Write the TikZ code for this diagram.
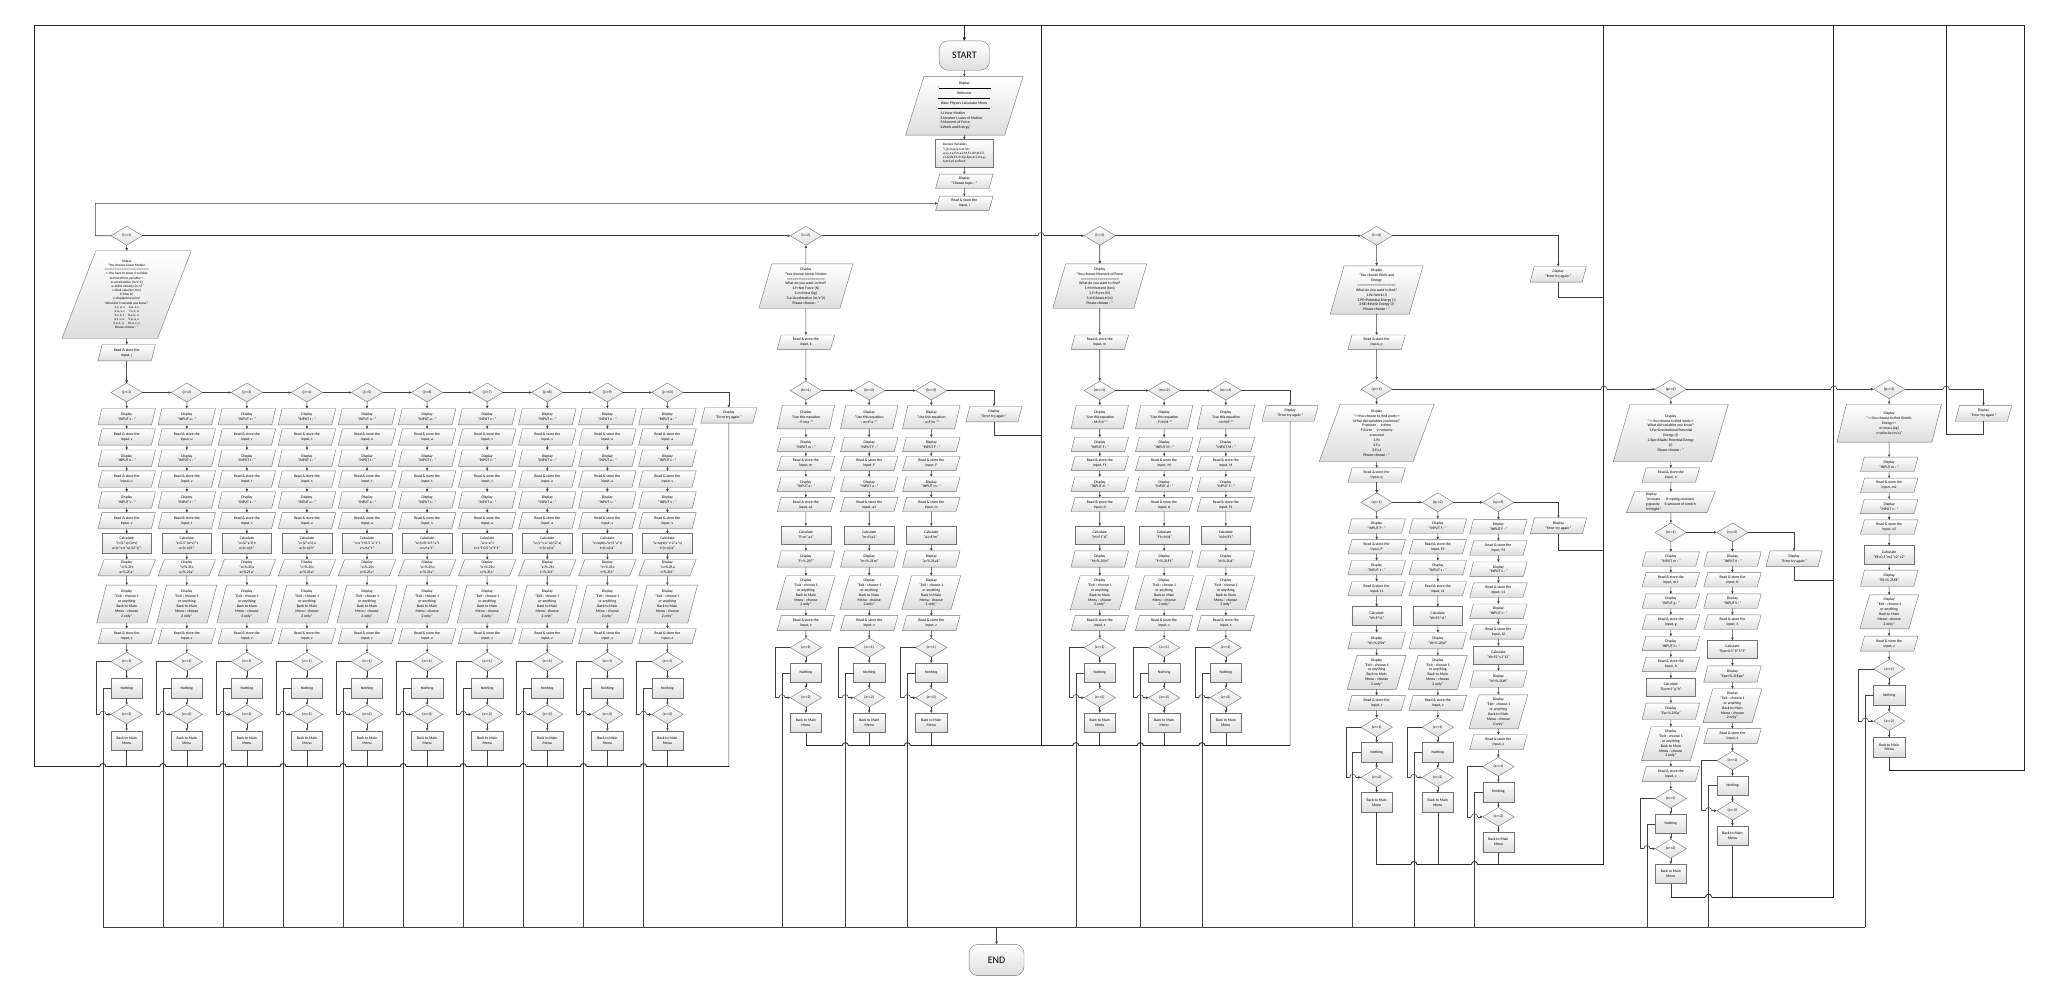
\documentclass[tikz,border=0pt]{standalone}
\usepackage{fontspec}
\setmainfont{Carlito}
\usetikzlibrary{shapes.geometric,arrows.meta}
\newcommand\pxu{1.30612pt}
\newcommand\fs{\fontsize{3.8}{4.9}\selectfont}
\newcommand\fsb{\fontsize{3.4}{4.15}\selectfont}
\newcommand\dtx[1]{Display\\"INPUT #1 : "}
\newcommand\rtx[1]{Read \& store the\\input, #1}
\newcommand\extx{Display\\"Exit : choose 1\\or anything\\Back to Main\\Menu : choose\\2 only"}
\newcommand\errtx{Display\\"Error try again "}
\newcommand\rsx{}
\newcommand\prevnd{}
\newcommand\newchain{\gdef\prevnd{}}
\newcommand\Nd[5][paraB]{\node[#1] (#2) at (#3,#4) {#5};\ifx\prevnd\empty\else\draw[arr] (\prevnd) -- (#2);\fi\gdef\prevnd{#2}}
\newcommand\hop[4]{%
 \fill[white] ({#3-2.4},{#4-1.1}) rectangle ({#3+2.4},{#4+1.1});
 \draw[#2] (#3,{#4-1.4}) -- (#3,{#4+1.4});
 \draw[#1] ({#3-2.4},#4) .. controls ({#3-2.4},{#4-3.2}) and ({#3+2.4},{#4-3.2}) .. ({#3+2.4},#4);}
\newcommand\tail[5]{%
 \Nd[paraZ]{#1Rz}{#2}{#3+23.3*#4}{\rtx{z}}%
 \Nd[dec]{#1Z1}{#2}{#3+42*#4}{(z==1)}%
 \Nd[nb]{#1N}{#2}{#3+61.3*#4}{Nothing}%
 \Nd[dec]{#1Z2}{#2}{#3+80.4*#4}{(z==2)}%
 \Nd[nb]{#1B}{#2}{#3+99.6*#4}{Back to Main\\Menu}%
 \draw[arr] (#1Z1.west) -- ++(-11.5,0) |- (#1Z2.west);%
 \draw[ln] (#1N.west) -- ++(-6.3,0) coordinate (#1nx) -- (#1nx |- bot);%
 \draw[ln] (#1B.south) -- (#2,#5);%
 \hop{ln}{ln}{#2-18.3}{#3+80.4*#4}}
\newcommand\colA[7]{%
 \Nd[dec]{j#1}{#2}{300.5}{(j==#1)}%
 \Nd[paraA]{j#1a}{#2}{319}{\dtx{#3}}%
 \Nd[paraA]{j#1b}{#2}{334.6}{\rtx{#3}}%
 \Nd[paraA]{j#1c}{#2}{350.8}{\dtx{#4}}%
 \Nd[paraA]{j#1d}{#2}{366.8}{\rtx{#4}}%
 \Nd[paraA]{j#1e}{#2}{382.8}{\dtx{#5}}%
 \Nd[paraA]{j#1f}{#2}{398.7}{\rtx{#5}}%
 \Nd[calcA]{j#1g}{#2}{416}{Calculate\\"#6"}%
 \Nd[paraA]{j#1h}{#2}{434.6}{Display\\"#7"}%
 \Nd[exitA]{j#1E}{#2}{462.5}{\extx}%
 \tail{j#1}{#2}{462.5}{1.05}{587}}
\newcommand\colB[9]{%
 \Nd[dec]{#1}{#2}{299}{#3}%
 \Nd[eqB]{#1a}{#2}{319.3}{Display\\"Use this equation\\#4"}%
 \Nd{#1b}{#2}{340.3}{\dtx{#5}}%
 \Nd{#1c}{#2}{354.8}{\rtx{#6}}%
 \Nd{#1d}{#2}{370.7}{\dtx{#7}}%
 \Nd{#1e}{#2}{386.3}{\rtx{#8}}%
 \Nd[calcB]{#1f}{#2}{409.7}{Calculate\\"#9"}%
 \Nd[resB]{#1g}{#2}{428}{Display\\"\rsx"}%
 \Nd[exitB]{#1E}{#2}{453.8}{\extx}%
 \tail{#1}{#2}{453.8}{1}{571}}
\tikzset{
 every node/.style={font=\fs, align=center, inner sep=0.3pt, outer sep=0pt},
 shp/.style={draw=black!55, line width=0.4pt, top color=white, bottom color=black!13},
 io/.style 2 args={shp, trapezium, trapezium left angle=65, trapezium right angle=115, trapezium stretches body, minimum width={#1*\pxu}, minimum height={#2*\pxu}},
 pr/.style 2 args={shp, rectangle, minimum width={#1*\pxu}, minimum height={#2*\pxu}},
 dec/.style={shp, diamond, minimum width={24*\pxu}, minimum height={14.5*\pxu}, inner sep=0pt},
 paraA/.style={io={44}{12.5}},
 paraB/.style={io={44}{11}},
 paraZ/.style={io={44}{11.5}},
 calcA/.style={pr={38}{15}},
 calcB/.style={pr={38}{14}},
 resB/.style={io={44}{12.5}},
 exitA/.style={io={46}{29}, trapezium left angle=71, trapezium right angle=109},
 exitB/.style={io={45}{26}, trapezium left angle=71, trapezium right angle=109},
 eqB/.style={io={44}{18}, trapezium left angle=68, trapezium right angle=112},
 errst/.style={io={43}{12}},
 nb/.style={pr={24}{15}},
 bigA/.style={io={99}{67}, trapezium left angle=64, trapezium right angle=116, font=\fsb},
 big23/.style={io={72}{34}, trapezium left angle=71, trapezium right angle=109},
 big4/.style={io={71}{37}, trapezium left angle=72, trapezium right angle=108},
 bigq/.style={io={88}{44}, trapezium left angle=66, trapezium right angle=114},
 bigp3/.style={io={80}{29}, trapezium left angle=68, trapezium right angle=112},
 massst/.style={io={68}{16}, trapezium left angle=66, trapezium right angle=114},
 menust/.style={io={90}{45}, trapezium left angle=69, trapezium right angle=111},
 declst/.style={pr={44}{21}, align=left, font=\fsb},
 termst/.style={shp, rectangle, rounded corners=9pt, font=\fontsize{10}{12}\selectfont},
 ln/.style={draw=black!75, line width=0.55pt},
 arr/.style={ln, -{Triangle[length=2.6pt,width=2.3pt]}},
 rt/.style={draw=black!85, line width=0.9pt},
 rtarr/.style={rt, -{Triangle[length=3.4pt,width=3.2pt]}},
}
\begin{document}
\begin{tikzpicture}[x=1.30612pt,y=-1.30612pt]
\fill[white] (0,0) rectangle (1568,763);
\useasboundingbox (0,0) rectangle (1568,763);
\coordinate (bot) at (0,710);
% ---------- top
\newchain
\Nd[termst, minimum width={38.5*\pxu}, minimum height={22.5*\pxu}]{start}{738.3}{42.5}{START}
\Nd[menust]{menu}{738.3}{81}{Display\\"\rule[1pt]{52pt}{0.2pt}\\Welcome\\\rule[1pt]{52pt}{0.2pt}\\Basic Physics Calculator Menu\\\rule[1pt]{52pt}{0.2pt}\\\makebox[48pt][l]{1.Linear Motion}\\\makebox[48pt][l]{2.Newton's Laws of Motion}\\\makebox[48pt][l]{3.Moment of Force}\\\makebox[48pt][l]{4.Work and Energy"}}
\Nd[declst]{decl}{738.3}{117.3}{Declare Variables\\"i,j,k,m,p,q,n as int;\\u,v,s,t,a,F,m,a1,M,F1,d,P,t1,F2,\\v1,t2,W,P1,K1,Ep,Epe,K,S,m1,g,\\h,m2,v2 as float"}
\Nd{choose}{738.3}{138.8}{Display\\"Choose topic : "}
\Nd{readi}{738.3}{155.7}{\rtx{i}}
% ---------- section 1
\newchain
\Nd[dec]{i1}{97}{180.5}{(i==1)}
\Nd[bigA]{d1}{97}{225.5}{Display\\"You choose Linear Motion\\==========================\\<{}<You have to know 3 variable\\to find others variable>{}>\\a=acceleration (m/s\textasciicircum 2)\\u=initial velocity (m/s)\\v=final velocity (m/s)\\t=time (s)\\s=displacement (m)\\What did 3 variable you know?\\1.s, u, v \quad 6.a, t, s\\2.u, v, t \quad 7.v, t, a\\3.v, t, s \quad 8.v, u, a\\4.t, s, u \quad 9.u, a, s\\5.u, t, a \quad 10.a, s, v\\Please choose : "}
\Nd[paraA]{rj}{97}{270}{\rtx{j}}
\colA{1}{97}{s}{u}{v}{t=(2*s)/(u+v)\\a=(v*v-u*u)/(2*s)}{t=\%.2f,t\\a=\%.2f,a}
\newchain\colA{2}{143}{u}{v}{t}{s=0.5*(u+v)*t\\a=(v-u)/t}{s=\%.2f,s\\a=\%.2f,a}
\newchain\colA{3}{189}{v}{t}{s}{u=(2*s/t)-v\\a=(v-u)/t}{u=\%.2f,u\\a=\%.2f,a}
\newchain\colA{4}{235}{t}{s}{u}{v=(2*s/t)-u\\a=(v-u)/t}{v=\%.2f,v\\a=\%.2f,a}
\newchain\colA{5}{281}{u}{t}{a}{s=u*t+0.5*a*t*t\\v=u+a*t}{s=\%.2f,s\\v=\%.2f,v}
\newchain\colA{6}{327}{a}{t}{s}{u=(s/t)-0.5*a*t\\v=u+a*t}{u=\%.2f,u\\v=\%.2f,v}
\newchain\colA{7}{373}{v}{t}{a}{u=v-a*t\\s=v*t-0.5*a*t*t}{u=\%.2f,u\\s=\%.2f,s}
\newchain\colA{8}{419}{v}{u}{a}{s=(v*v-u*u)/(2*a)\\t=(v-u)/a}{s=\%.2f,s\\t=\%.2f,t}
\newchain\colA{9}{465}{u}{a}{s}{v=sqrt(u*u+2*a*s)\\t=(v-u)/a}{v=\%.2f,v\\t=\%.2f,t}
\newchain\colA{10}{511}{a}{s}{v}{u=sqrt(v*v-2*a*s)\\t=(v-u)/a}{u=\%.2f,u\\t=\%.2f,t}
\foreach \a/\b in {1/2,2/3,3/4,4/5,5/6,6/7,7/8,8/9,9/10} \draw[arr] (j\a.east) -- (j\b.west);
\node[errst] (jerr) at (558,318) {\errtx};
\draw[arr] (j10.east) -| (jerr.north);
\draw[ln] (jerr.south) -- (558,587);
% ---------- section 2
\node[dec] (i2) at (617,180.5) {(i==2)};
\node[big23] (d2) at (617,219) {Display\\"You choose Linear Motion\\====================\\What do you want to find?\\1.F=Net Force (N)\\2.m=Mass (kg)\\3.a=Acceleration (m/s\textasciicircum 2)\\Please choose : "};
\node[paraB] (rk) at (617,262) {\rtx{k}};
\draw[arr] (d2) -- (i2);
\draw[arr] (d2) -- (rk);
\gdef\prevnd{rk}\def\rsx{F=\%.2f,F}\colB{k1}{617}{(k==1)}{: F=ma "}{m}{m}{a}{a1}{F=m*a1}
\newchain\def\rsx{m=\%.2f,m}\colB{k2}{665.5}{(k==2)}{: m=F/a "}{F}{F}{a}{a1}{m=F/a1}
\newchain\def\rsx{a=\%.2f,a1}\colB{k3}{713}{(k==3)}{: a=F/m "}{F}{F}{m}{m}{a1=F/m}
\draw[arr] (k1.east) -- (k2.west);
\draw[arr] (k2.east) -- (k3.west);
\node[errst] (kerr) at (761,317) {\errtx};
\draw[arr] (k3.east) -| (kerr.north);
\draw[ln] (kerr.south) |- (797,333);
% ---------- section 3
\newchain
\Nd[dec]{i3}{842}{180.5}{(i==3)}
\Nd[big23]{d3}{842}{219}{Display\\"You choose Moment of Force\\====================\\What do you want to find?\\1.M=Moment (Nm)\\2.F=Force (N)\\3.d=Distance (m)\\Please choose : "}
\Nd{rm}{842}{262}{\rtx{m}}
\def\rsx{M=\%.2f,M}\colB{m1}{842}{(m==1)}{: M=F.d "}{F}{F1}{d}{d}{M=F1*d}
\newchain\def\rsx{F=\%.2f,F1}\colB{m2}{891.3}{(m==2)}{: F=M/d "}{M}{M}{d}{d}{F1=M/d}
\newchain\def\rsx{d=\%.2f,d}\colB{m3}{938.5}{(m==3)}{: d=M/F "}{M}{M}{F}{F1}{d=M/F1}
\draw[arr] (m1.east) -- (m2.west);
\draw[arr] (m2.east) -- (m3.west);
\node[errst] (merr) at (987.7,316.5) {\errtx};
\draw[arr] (m3.east) -| (merr.north);
\draw[ln] (merr.south) -- (987.7,571);
% ---------- section 4
\newchain
\Nd[dec]{i4}{1054}{180.5}{(i==4)}
\Nd[big4]{d4}{1054}{222}{Display\\"You choose Work and\\Energy\\====================\\What do you want to find?\\1.W=Work (J)\\2.PE=Potential Energy (J)\\3.KE=Kinetic Energy (J)\\Please choose : "}
\Nd{rp}{1054}{262}{\rtx{p}}
\Nd[dec]{p1}{1054}{298}{(p==1)}
\Nd[bigq]{dq}{1054}{331.5}{Display\\"<{}<You choose to find work>{}>\\What did variables you know?\\P=power \quad t=time\\F=force \quad v=velocity\\s=second\\1.P,t\\2.F,s\\3.F,v,t\\Please choose : "}
\Nd{rq}{1054}{363.7}{\rtx{q}}
\Nd[dec]{q1}{1054}{384.6}{(q==1)}
\Nd{q1a}{1054}{402.8}{\dtx{P}}
\Nd{q1b}{1054}{418.6}{\rtx{P}}
\Nd{q1c}{1054}{434.6}{\dtx{t}}
\Nd{q1d}{1054}{450.7}{\rtx{t1}}
\Nd[calcB]{q1f}{1054}{471.4}{Calculate\\"W=P*t1"}
\Nd[resB]{q1g}{1054}{490.5}{Display\\"W=\%.2f,W"}
\Nd[exitB]{q1E}{1054}{514.8}{\extx}
\tail{q1}{1054}{514.8}{1}{662}
\newchain
\Nd[dec]{q2}{1100.8}{384.6}{(q==2)}
\Nd{q2a}{1100.8}{402.8}{\dtx{F}}
\Nd{q2b}{1100.8}{418.6}{\rtx{F2}}
\Nd{q2c}{1100.8}{434.6}{\dtx{s}}
\Nd{q2d}{1100.8}{450.7}{\rtx{s1}}
\Nd[calcB]{q2f}{1100.8}{471.4}{Calculate\\"W=F2*s1"}
\Nd[resB]{q2g}{1100.8}{490.5}{Display\\"W=\%.2f,W"}
\Nd[exitB]{q2E}{1100.8}{514.8}{\extx}
\tail{q2}{1100.8}{514.8}{1}{662}
\newchain
\Nd[dec]{q3}{1147.2}{384.6}{(q==3)}
\Nd{q3a}{1147.2}{403.3}{\dtx{F}}
\Nd{q3b}{1147.2}{419.6}{\rtx{F2}}
\Nd{q3c}{1147.2}{435.8}{\dtx{v}}
\Nd{q3d}{1147.2}{451.8}{\rtx{v1}}
\Nd{q3e}{1147.2}{467.9}{\dtx{t}}
\Nd{q3h}{1147.2}{483.8}{\rtx{t2}}
\Nd[calcB]{q3f}{1147.2}{501.5}{Calculate\\"W=F2*v1*t2"}
\Nd[resB]{q3g}{1147.2}{519.9}{Display\\"W=\%.2f,W"}
\Nd[exitB]{q3E}{1147.2}{545}{\extx}
\tail{q3}{1147.2}{545}{1}{662}
\draw[arr] (q1.east) -- (q2.west);
\draw[arr] (q2.east) -- (q3.west);
\node[errst] (qerr) at (1193.2,402.5) {\errtx};
\draw[arr] (q3.east) -| (qerr.north);
\draw[ln] (qerr.south) |- (1228,421);
\node[errst] (ierr) at (1193,210) {\errtx};
\draw[arr] (i4.east) -| (ierr.north);
\draw[ln] (ierr.south) |- (1228,227.6);
% p==2
\newchain
\Nd[dec]{p2}{1279.2}{298}{(p==2)}
\Nd[bigq]{dp2}{1279.2}{331.5}{Display\\"<{}<You choose to find work>{}>\\What did variables you know?\\1.Ep=Gravitational Potential\\Energy (J)\\2.Epe=Elastic Potential Energy\\(J)\\Please choose : "}
\Nd{rn}{1279.2}{363.7}{\rtx{n}}
\Nd[massst, align=left]{dmass}{1279.2}{384.5}{Display\\"m=mass \quad\ \ K=spring constant\\g=gravity \quad S=amount of stretch\\h=height"}
\Nd[dec]{n1}{1279.2}{407.6}{(n==1)}
\Nd{n1a}{1279.2}{428}{\dtx{m}}
\Nd{n1b}{1279.2}{443.9}{\rtx{m1}}
\Nd{n1c}{1279.2}{460.2}{\dtx{g}}
\Nd{n1d}{1279.2}{476.3}{\rtx{g}}
\Nd{n1e}{1279.2}{492.6}{\dtx{h}}
\Nd{n1h}{1279.2}{508.7}{\rtx{h}}
\Nd[calcB]{n1f}{1279.2}{526.3}{Calculate\\"Ep=m1*g*h"}
\Nd[resB]{n1g}{1279.2}{544.6}{Display\\"Ep=\%.2f,Ep"}
\Nd[exitB]{n1E}{1279.2}{569.4}{\extx}
\tail{n1}{1279.2}{569.4}{1}{687}
\newchain
\Nd[dec]{n2}{1326.4}{407.6}{(n==2)}
\Nd{n2a}{1326.4}{428}{\dtx{K}}
\Nd{n2b}{1326.4}{443.9}{\rtx{K}}
\Nd{n2c}{1326.4}{460.2}{\dtx{S}}
\Nd{n2d}{1326.4}{476.3}{\rtx{S}}
\Nd[calcB]{n2f}{1326.4}{497.2}{Calculate\\"Epe=0.5*K*S*S"}
\Nd[resB]{n2g}{1326.4}{516}{Display\\"Epe=\%.2f,Epe"}
\Nd[exitB]{n2E}{1326.4}{540.3}{\extx}
\tail{n2}{1326.4}{540.3}{1}{687}
\draw[arr] (n1.east) -- (n2.west);
\node[errst] (nerr) at (1373.6,427.8) {\errtx};
\draw[arr] (n2.east) -| (nerr.north);
\draw[ln] (nerr.south) |- (1404,444.6);
% p==3
\newchain
\Nd[dec]{p3}{1446.4}{298}{(p==3)}
\Nd[bigp3]{dp3}{1446.4}{324}{Display\\"<{}<You choose to find Kinetic\\Energy>{}>\\m=mass (kg)\\v=velocity (m/s)"}
\Nd{p3a}{1446.4}{355.5}{\dtx{m}}
\Nd{p3b}{1446.4}{371.6}{\rtx{m2}}
\Nd{p3c}{1446.4}{387.7}{\dtx{v}}
\Nd{p3d}{1446.4}{403.5}{\rtx{v2}}
\Nd[calcB]{p3f}{1446.4}{424.7}{Calculate\\"KE=0.5*m2*v2*v2"}
\Nd[resB]{p3g}{1446.4}{442.8}{Display\\"KE=\%.2f,KE"}
\Nd[exitB]{p3E}{1446.4}{468.5}{\extx}
\tail{p3}{1446.4}{468.5}{1.04}{590}
\draw[arr] (p1.east) -- (p2.west);
\draw[arr] (p2.east) -- (p3.west);
\node[errst] (perr) at (1518.6,316.5) {\errtx};
\draw[arr] (p3.east) -| (perr.north);
\draw[ln] (perr.south) |- (1490,332.3);
% ---------- main connections
\draw[arr] (i1.west) -- (73,180.5) -- (73,155.7) -- (readi.west);
\draw[arr] (i1.east) -- (i2.west);
\draw[arr] (i2.east) -- (i3.west);
\draw[arr] (i3.east) -- (i4.west);
\draw[arr] (rj) -- (j1);
\draw[arr] (rq) -- (q1);
% ---------- return lines
\draw[rt] (558,587) -- (26,587) -- (26,19.5) -- (1550,19.5);
\draw[rtarr] (738.3,19.5) -- (start.north);
\draw[rt] (617,571) -- (987.7,571);
\draw[rt] (797,571) -- (797,19.5);
\draw[rt] (1054,662) -- (1228,662) -- (1228,19.5);
\draw[rt] (1279.2,687) -- (1404,687) -- (1404,19.5);
\draw[rt] (1446.4,590) -- (1550,590) -- (1550,19.5);
\draw[rt] (1490,332.3) -- (1490,19.5);
% ---------- END
\node[termst, minimum width={42*\pxu}, minimum height={24*\pxu}] (end) at (763,735) {END};
\draw[ln] (78.7,710) -- (1428.1,710);
\draw[arr] (763,710) -- (end.north);
% ---------- hops
\hop{ln}{rt}{797}{180.5}
\hop{ln}{rt}{1228}{298}
\hop{ln}{rt}{1404}{298}
\hop{ln}{rt}{1490}{298}
\foreach \x in {97,143,189,235,281,327,373,419,465,511} {\hop{rt}{ln}{\x-18.3}{587}}
\foreach \x in {665.5,713,842,891.3,938.5} {\hop{rt}{ln}{\x-18.3}{571}}
\foreach \x in {1100.8,1147.2} {\hop{rt}{ln}{\x-18.3}{662}}
\hop{rt}{ln}{1326.4-18.3}{687}
\end{tikzpicture}
\end{document}
